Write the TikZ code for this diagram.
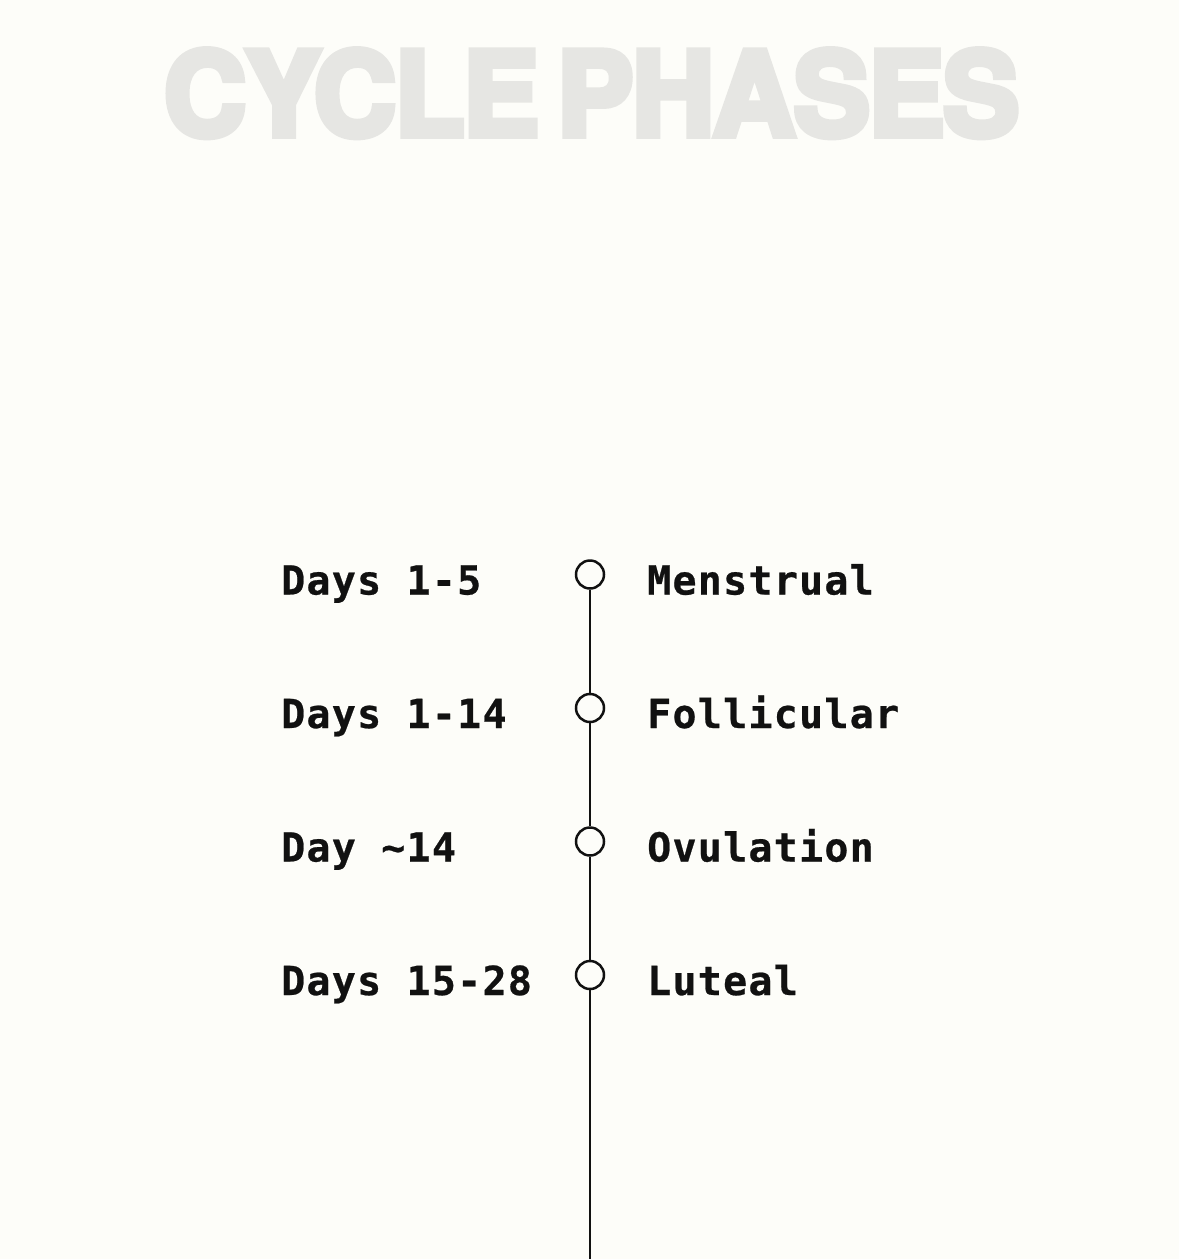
\documentclass[tikz,border=0pt]{standalone}
\usepackage{fontspec}
\newfontfamily\monofont{DejaVu Sans Mono}[BoldFont={DejaVu Sans Mono Bold}, LetterSpace=3.1, BoldFeatures={FakeBold=0.6}]
\newfontfamily\titlefont{TeX Gyre Heros}[BoldFont={TeX Gyre Heros Bold}, BoldFeatures={FakeBold=6, FakeStretch=0.98, LetterSpace=-1}]
\definecolor{bg}{HTML}{FDFDF9}
\definecolor{titlegray}{HTML}{E6E6E3}
\definecolor{ink}{HTML}{111111}
\tikzset{
  phase/.style={circle, draw=ink, fill=bg, line width=2.5pt, minimum size=28pt, inner sep=0pt},
  daylabel/.style={anchor=base west, inner sep=0pt, text=ink, font=\monofont\bfseries\fontsize{40}{44}\selectfont},
  namelabel/.style={anchor=base west, inner sep=0pt, text=ink, font=\monofont\bfseries\fontsize{40}{44}\selectfont},
  spine/.style={draw=ink, line width=2pt}
}
\begin{document}
\begin{tikzpicture}[x=1pt, y=-1pt]
\fill[bg] (0,0) rectangle (1179,1259);
\useasboundingbox (0,0) rectangle (1179,1259);
\node[anchor=base, inner sep=0pt, text=titlegray, font=\titlefont\bfseries\fontsize{116}{116}\selectfont] (title) at (591.5,135.5) {CYCLE\hspace{-12pt} PHASES};
\node[phase] (c1) at (590,574.5) {};
\node[phase] (c2) at (590,708) {};
\node[phase] (c3) at (590,841.5) {};
\node[phase] (c4) at (590,975) {};
\coordinate (bot) at (590,1259);
\draw[spine] (c1) -- (c2);
\draw[spine] (c2) -- (c3);
\draw[spine] (c3) -- (c4);
\draw[spine] (c4) -- (bot);
\node[daylabel] (d1) at (281,594.5) {Days 1-5};
\node[daylabel] (d2) at (281,728) {Days 1-14};
\node[daylabel] (d3) at (281,861.5) {Day \char`\~14};
\node[daylabel] (d4) at (281,995) {Days 15-28};
\node[namelabel] (n1) at (647,594.5) {Menstrual};
\node[namelabel] (n2) at (647,728) {Follicular};
\node[namelabel] (n3) at (647,861.5) {Ovulation};
\node[namelabel] (n4) at (647,995) {Luteal};
\end{tikzpicture}
\end{document}
